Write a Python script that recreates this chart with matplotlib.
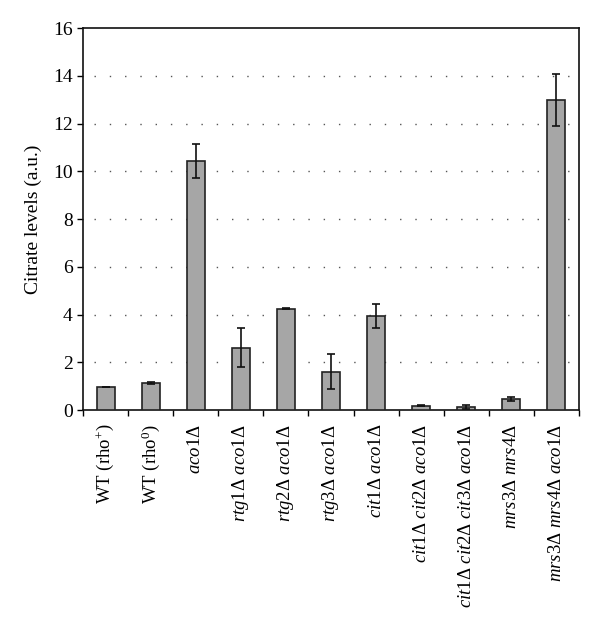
import matplotlib.pyplot as plt
import numpy as np

plt.rcParams["font.family"] = "Liberation Serif"
plt.rcParams["mathtext.fontset"] = "custom"
plt.rcParams["mathtext.rm"] = "Liberation Serif"
plt.rcParams["mathtext.it"] = "Liberation Serif:italic"

# strains and measured citrate levels
labels = [
    r"WT (rho$^{+}$)",
    r"WT (rho$^{0}$)",
    r"$\mathit{aco1}\Delta$",
    r"$\mathit{rtg1}\Delta\ \mathit{aco1}\Delta$",
    r"$\mathit{rtg2}\Delta\ \mathit{aco1}\Delta$",
    r"$\mathit{rtg3}\Delta\ \mathit{aco1}\Delta$",
    r"$\mathit{cit1}\Delta\ \mathit{aco1}\Delta$",
    r"$\mathit{cit1}\Delta\ \mathit{cit2}\Delta\ \mathit{aco1}\Delta$",
    r"$\mathit{cit1}\Delta\ \mathit{cit2}\Delta\ \mathit{cit3}\Delta\ \mathit{aco1}\Delta$",
    r"$\mathit{mrs3}\Delta\ \mathit{mrs4}\Delta$",
    r"$\mathit{mrs3}\Delta\ \mathit{mrs4}\Delta\ \mathit{aco1}\Delta$",
]
values = [0.98, 1.14, 10.43, 2.62, 4.24, 1.6, 3.95, 0.18, 0.13, 0.46, 12.98]
errors = [0.0, 0.03, 0.72, 0.8, 0.02, 0.73, 0.5, 0.03, 0.07, 0.1, 1.1]

fig = plt.figure(figsize=(6.0, 6.26), dpi=100)
ax = fig.add_axes([0.1383, 0.345, 0.8267, 0.610])

x = np.arange(len(values)) + 0.5
ax.bar(x, values, width=0.4, color="#a6a6a6", edgecolor="#222222",
       linewidth=1.2, zorder=3)
ax.errorbar(x, values, yerr=errors, fmt="none", ecolor="#111111",
            elinewidth=1.2, capsize=3, capthick=1.2, zorder=4)

ax.set_xlim(0, len(values))
ax.set_ylim(0, 16)
ax.set_yticks(np.arange(0, 17, 2))
ax.set_xticks(np.arange(0, len(values) + 1))
ax.set_xticklabels([])
ax.set_xticks(x, minor=True)
ax.set_xticklabels(labels, minor=True, rotation=90, fontsize=13.5)
ax.tick_params(axis="x", which="minor", length=0, pad=10)
ax.tick_params(axis="x", which="major", length=4, width=1, direction="out")
ax.tick_params(axis="y", length=4, width=1, direction="out", labelsize=14)

for yv in range(2, 16, 2):
    ax.axhline(yv, xmin=0.022, xmax=0.995, color="#555555", linewidth=1.0,
               linestyle=(0, (1, 10)), zorder=1)

for s in ax.spines.values():
    s.set_linewidth(1.2)
    s.set_color("#111111")

ax.set_ylabel("Citrate levels (a.u.)", fontsize=14, labelpad=8)

fig.savefig("out.png", dpi=100)
